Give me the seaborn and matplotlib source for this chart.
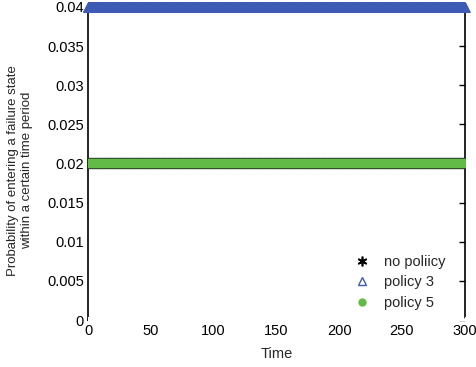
import numpy as np
import pandas as pd
import matplotlib
matplotlib.use("Agg")
import matplotlib.pyplot as plt
from matplotlib.lines import Line2D
import seaborn as sns

# Time grid and failure-entry probabilities for each policy
time = np.arange(0, 300.01, 0.25)
no_policy = [0.0] * len(time)
policy_3 = [0.04] * len(time)
policy_5 = [0.02] * len(time)

x_ticks = [0, 50, 100, 150, 200, 250, 300]
y_ticks = [0, 0.005, 0.01, 0.015, 0.02, 0.025, 0.03, 0.035, 0.04]
y_tick_labels = ["0", "0.005", "0.01", "0.015", "0.02", "0.025", "0.03", "0.035", "0.04"]

sns.set_style("white")
plt.rcParams["font.family"] = ["Liberation Sans", "DejaVu Sans"]

fig = plt.figure(figsize=(4.76, 3.67), dpi=100)
ax = fig.add_axes([0.185, 0.128, 0.791, 0.853])

df = pd.DataFrame({"Time": time, "none": no_policy, "p3": policy_3, "p5": policy_5})

# policy 5: dense green dots over a dark band
sns.lineplot(data=df, x="Time", y="p5", ax=ax, color="#2b3327", linewidth=8.2,
             marker="o", markersize=6.6, markerfacecolor="#63bb47",
             markeredgewidth=0, zorder=3, legend=False)
# policy 3: dense blue triangles
sns.lineplot(data=df, x="Time", y="p3", ax=ax, linestyle="", marker="^",
             markersize=6.5, markerfacecolor="#3d5bb5", markeredgecolor="#3d5bb5",
             markeredgewidth=0.6, zorder=4, legend=False, clip_on=False)
# no policy: asterisks along zero
sns.lineplot(data=df.iloc[::8], x="Time", y="none", ax=ax, linestyle="",
             marker=(6, 2, 0), markersize=5, color="black",
             markeredgewidth=0.8, zorder=5, legend=False)

ax.set_xlim(0, 300)
ax.set_ylim(0, 0.04)
ax.set_xticks(x_ticks)
ax.set_xticklabels([str(t) for t in x_ticks], fontsize=10.5)
ax.set_yticks(y_ticks)
ax.set_yticklabels(y_tick_labels, fontsize=10.5)
ax.tick_params(direction="in", length=4, width=1, top=False, right=True,
               colors="black", pad=3)
for side in ["left", "right", "bottom", "top"]:
    ax.spines[side].set_color("black")
    ax.spines[side].set_linewidth(1.2)

ax.set_xlabel("Time", fontsize=10.5, labelpad=6)
ax.set_ylabel("Probability of entering a failure state\nwithin a certain time period",
              fontsize=9.5, linespacing=1.2)
ax.yaxis.set_label_coords(-0.146, 0.479)

handles = [
    Line2D([], [], linestyle="", marker=(6, 2, 0), markersize=7, color="black",
           markeredgewidth=1.2),
    Line2D([], [], linestyle="", marker="^", markersize=6, markerfacecolor="none",
           markeredgecolor="#3d5bb5", markeredgewidth=1.0),
    Line2D([], [], linestyle="", marker="o", markersize=6, markerfacecolor="#63bb47",
           markeredgewidth=0),
]
ax.legend(handles, ["no poliicy", "policy 3", "policy 5"],
          loc="lower right", bbox_to_anchor=(0.985, -0.01), frameon=False,
          fontsize=10.5, handletextpad=0.9, labelspacing=0.45, handlelength=1.2)

fig.savefig("out.png", dpi=100)
